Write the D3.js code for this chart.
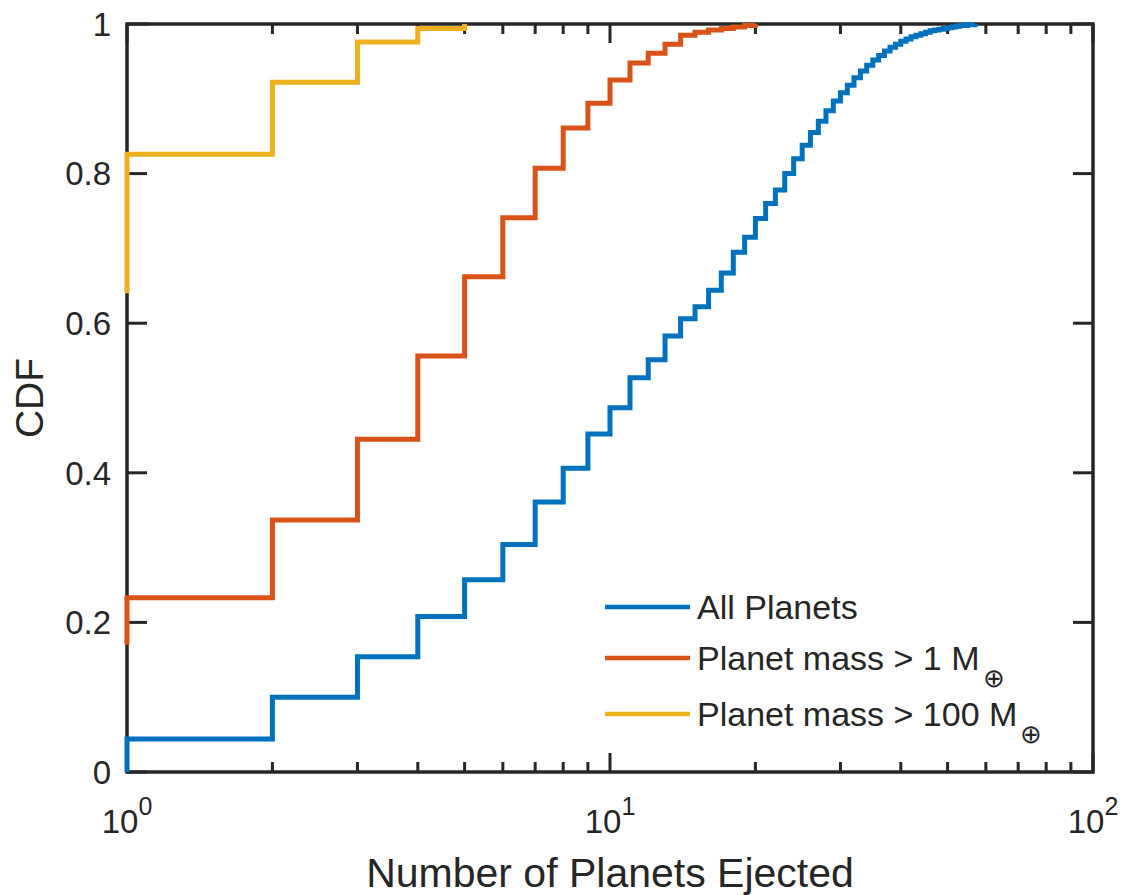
<!doctype html>
<html>
<head>
<script src="https://d3js.org/d3.v7.min.js"></script>
<style>
  body { margin: 0; background: #fff; }
  text { font-family: "Liberation Sans", Arial, sans-serif; fill: #262626; }
</style>
</head>
<body>
<svg width="1135" height="895"></svg>
<script>

// number of planets ejected (integer steps of the empirical CDF)
var allCounts = d3.range(1, 58);
var allCdf = [0.044, 0.100, 0.154, 0.208, 0.257, 0.304, 0.361, 0.406, 0.452, 0.487,
              0.527, 0.551, 0.583, 0.606, 0.622, 0.644, 0.667, 0.695, 0.715, 0.740,
              0.760, 0.778, 0.800, 0.820, 0.838, 0.855, 0.870, 0.884, 0.897, 0.908,
              0.918, 0.928, 0.937, 0.945, 0.952, 0.958, 0.964, 0.969, 0.973, 0.977,
              0.980, 0.983, 0.985, 0.987, 0.989, 0.991, 0.992, 0.993, 0.994, 0.995,
              0.996, 0.997, 0.998, 0.998, 0.999, 0.999, 1.000];
var allBase = 0;

var m1Counts = d3.range(1, 21);
var m1Cdf = [0.233, 0.337, 0.445, 0.556, 0.662, 0.741, 0.807, 0.861, 0.894, 0.925,
             0.948, 0.961, 0.973, 0.985, 0.989, 0.992, 0.994, 0.996, 0.998, 1.000];
var m1Base = 0.170;

var m100Counts = [1, 2, 3, 4, 5];
var m100Cdf = [0.826, 0.922, 0.976, 0.994, 1.000];
var m100Base = 0.640;

var yTicks = [0, 0.2, 0.4, 0.6, 0.8, 1];
var yTickLabels = ["0", "0.2", "0.4", "0.6", "0.8", "1"];
var xDecades = [1, 10, 100];
var xDecadeExp = ["0", "1", "2"];

var series = [
  {name: "All Planets", sub: "", counts: allCounts, cdf: allCdf, base: allBase, color: "#0072BD"},
  {name: "Planet mass > 1 M", sub: "\u2295", counts: m1Counts, cdf: m1Cdf, base: m1Base, color: "#D95319"},
  {name: "Planet mass > 100 M", sub: "\u2295", counts: m100Counts, cdf: m100Cdf, base: m100Base, color: "#EDB120"}
];

var svg = d3.select("svg");
var pLeft = 127, pRight = 1093, pTop = 24, pBottom = 772;

var x = d3.scaleLog().domain([1, 100]).range([pLeft, pRight]);
var y = d3.scaleLinear().domain([0, 1]).range([pBottom, pTop]);

var axisColor = "#262626";

// minor x ticks
var minor = [];
[1, 10].forEach(function(d) { for (var k = 2; k <= 9; k++) minor.push(d * k); });

var g = svg.append("g");

// bottom / top x ticks
g.selectAll(".xminB").data(minor).enter().append("line")
  .attr("x1", d => x(d)).attr("x2", d => x(d))
  .attr("y1", pBottom).attr("y2", pBottom - 10)
  .attr("stroke", axisColor).attr("stroke-width", 3);
g.selectAll(".xminT").data(minor).enter().append("line")
  .attr("x1", d => x(d)).attr("x2", d => x(d))
  .attr("y1", pTop).attr("y2", pTop + 10)
  .attr("stroke", axisColor).attr("stroke-width", 3);
g.selectAll(".xmajB").data(xDecades).enter().append("line")
  .attr("x1", d => x(d)).attr("x2", d => x(d))
  .attr("y1", pBottom).attr("y2", pBottom - 19)
  .attr("stroke", axisColor).attr("stroke-width", 3);
g.selectAll(".xmajT").data(xDecades).enter().append("line")
  .attr("x1", d => x(d)).attr("x2", d => x(d))
  .attr("y1", pTop).attr("y2", pTop + 19)
  .attr("stroke", axisColor).attr("stroke-width", 3);

// y ticks both sides
g.selectAll(".ytL").data(yTicks).enter().append("line")
  .attr("x1", pLeft).attr("x2", pLeft + 20)
  .attr("y1", d => y(d)).attr("y2", d => y(d))
  .attr("stroke", axisColor).attr("stroke-width", 3);
g.selectAll(".ytR").data(yTicks).enter().append("line")
  .attr("x1", pRight).attr("x2", pRight - 20)
  .attr("y1", d => y(d)).attr("y2", d => y(d))
  .attr("stroke", axisColor).attr("stroke-width", 3);

// box
g.append("rect")
  .attr("x", pLeft).attr("y", pTop)
  .attr("width", pRight - pLeft).attr("height", pBottom - pTop)
  .attr("fill", "none").attr("stroke", axisColor).attr("stroke-width", 3.5);

// y tick labels
g.selectAll(".ylab").data(yTicks).enter().append("text")
  .attr("x", pLeft - 16).attr("y", d => y(d))
  .attr("dy", "0.36em")
  .attr("text-anchor", "end")
  .style("font-size", "33px")
  .text((d, i) => yTickLabels[i]);

// x tick labels 10^n
var xl = g.selectAll(".xlab").data(xDecades).enter().append("text")
  .attr("x", d => x(d)).attr("y", 833)
  .attr("text-anchor", "middle")
  .style("font-size", "33px");
xl.append("tspan").text("10");
xl.append("tspan").attr("dy", -18).style("font-size", "25px").text((d, i) => xDecadeExp[i]);

// axis labels
svg.append("text")
  .attr("x", (pLeft + pRight) / 2).attr("y", 887)
  .attr("text-anchor", "middle")
  .style("font-size", "41px")
  .text("Number of Planets Ejected");
svg.append("text")
  .attr("transform", "translate(43," + ((pTop + pBottom) / 2) + ") rotate(-90)")
  .attr("text-anchor", "middle")
  .style("font-size", "39px")
  .text("CDF");

// step lines
var line = d3.line()
  .x(d => x(d[0]))
  .y(d => y(d[1]))
  .curve(d3.curveStepAfter);

series.forEach(function(s) {
  var pts = [[s.counts[0], s.base]];
  s.counts.forEach(function(c, i) { pts.push([c, s.cdf[i]]); });
  svg.append("path")
    .datum(pts)
    .attr("d", line)
    .attr("fill", "none")
    .attr("stroke", s.color)
    .attr("stroke-width", 5)
    .attr("stroke-linejoin", "miter");
});

// legend
var legY = [607, 658, 714];
var leg = svg.append("g");
series.forEach(function(s, i) {
  leg.append("line")
    .attr("x1", 605).attr("x2", 690)
    .attr("y1", legY[i]).attr("y2", legY[i])
    .attr("stroke", s.color).attr("stroke-width", 4.5);
  var t = leg.append("text")
    .attr("x", 697).attr("y", legY[i] + 12)
    .style("font-size", "34px");
  t.append("tspan").text(s.name);
  if (s.sub) {
    t.append("tspan")
      .attr("dx", 3).attr("dy", 17)
      .style("font-family", "DejaVu Sans")
      .style("font-size", "26px")
      .style("font-weight", "200")
      .text(s.sub);
  }
});

</script>
</body>
</html>
